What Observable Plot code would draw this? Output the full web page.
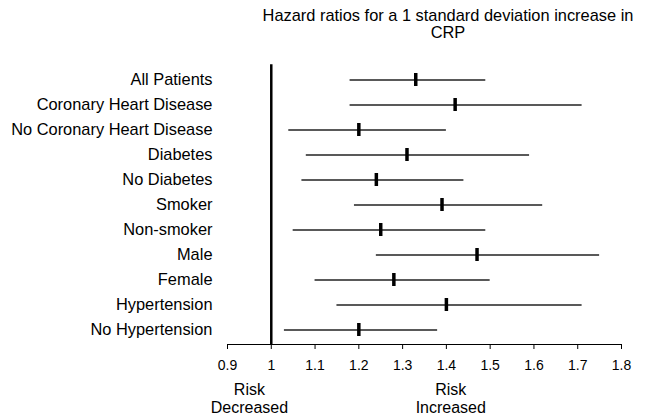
<!DOCTYPE html>
<html><head><meta charset="utf-8">
<script src="https://cdn.jsdelivr.net/npm/d3@7"></script>
<script src="https://cdn.jsdelivr.net/npm/@observablehq/plot@0.6"></script>
<style>
body{margin:0;background:#fff;font-family:"Liberation Sans",Arial,sans-serif;}
#title{width:649px;box-sizing:border-box;padding-left:247px;padding-top:7px;height:45px;text-align:center;font-size:16.4px;line-height:16.5px;color:#000;}
#chart svg{display:block;}
</style></head><body>
<div id="title">Hazard ratios for a 1 standard deviation increase in<br>CRP</div>
<div id="chart"></div>
<script>
const groups = ["All Patients","Coronary Heart Disease","No Coronary Heart Disease","Diabetes","No Diabetes","Smoker","Non-smoker","Male","Female","Hypertension","No Hypertension"];
const hr    = [1.33, 1.42, 1.20, 1.31, 1.24, 1.39, 1.25, 1.47, 1.28, 1.40, 1.20];
const lower = [1.18, 1.18, 1.04, 1.08, 1.07, 1.19, 1.05, 1.24, 1.10, 1.15, 1.03];
const upper = [1.49, 1.71, 1.40, 1.59, 1.44, 1.62, 1.49, 1.75, 1.50, 1.71, 1.38];
const xTicks = [0.9, 1, 1.1, 1.2, 1.3, 1.4, 1.5, 1.6, 1.7, 1.8];
const refValue = 1;
const annotText = ["Risk\nDecreased", "Risk\nIncreased"];
const annotX = [0.95, 1.41];

const data = groups.map((g, i) => ({group: g, hr: hr[i], lo: lower[i], hi: upper[i]}));

const chart = Plot.plot({
  width: 649, height: 375,
  marginLeft: 227, marginRight: 28, marginTop: 19.3, marginBottom: 76,
  style: {fontFamily: '"Liberation Sans", Arial, sans-serif', fontSize: "16px", color: "#000", background: "#fff", overflow: "visible"},
  x: {domain: [0.9, 1.8], label: null},
  y: {domain: groups, paddingInner: 0.5, paddingOuter: 0.25, label: null},
  marks: [
    Plot.frame({anchor: "bottom", stroke: "#000", strokeWidth: 1}),
    Plot.axisX(xTicks, {tickSize: 5, tickPadding: 10.5, fontSize: 14, tickFormat: d => String(d), label: null, stroke: "#000"}),
    Plot.axisY({tickSize: 0, tickPadding: 15, fontSize: 16.4, label: null}),
    Plot.ruleX([refValue], {stroke: "#000", strokeWidth: 2.5}),
    Plot.ruleY(data, {y: "group", x1: "lo", x2: "hi", stroke: "#222", strokeWidth: 1.3}),
    Plot.tickX(data, {x: "hr", y: "group", stroke: "#000", strokeWidth: 3.5}),
    Plot.text(annotText, {x: (d, i) => annotX[i], text: d => d, frameAnchor: "bottom", lineAnchor: "top", dy: 38, lineHeight: 1.13, fontSize: 16, fill: "#000"})
  ]
});
document.getElementById("chart").appendChild(chart);
</script>
</body></html>
